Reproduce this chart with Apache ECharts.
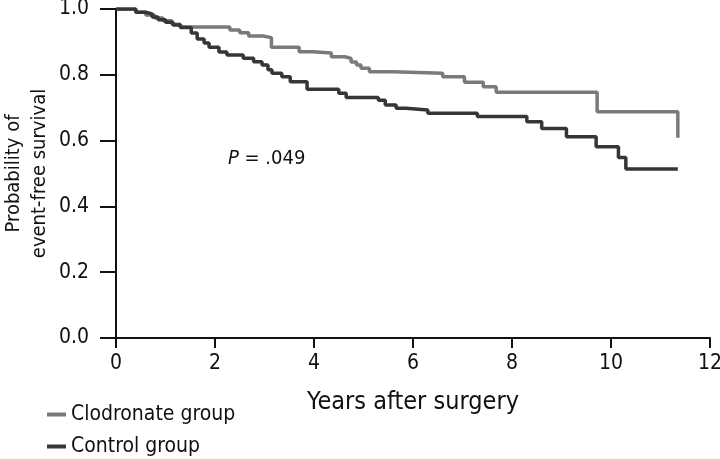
<!DOCTYPE html>
<html><head><meta charset="utf-8">
<script src="https://cdn.jsdelivr.net/npm/echarts@6/dist/echarts.min.js"></script>
<style>html,body{margin:0;padding:0;background:#fff}#c{width:720px;height:459px}</style>
</head><body><div id="c"></div>
<script>
var xTicks = [0, 2, 4, 6, 8, 10, 12];
var yTicks = [0.0, 0.2, 0.4, 0.6, 0.8, 1.0];
var seriesNames = ['Clodronate group', 'Control group'];
var clodronateT = [0, 0.4, 0.6, 0.78, 0.95, 1.13, 1.3, 2.3, 2.5, 2.68, 2.97, 3.14, 3.7, 3.98, 4.35, 4.62, 4.75, 4.86, 4.95, 5.12, 5.6, 6.6, 7.04, 7.42, 7.68, 9.72, 11.35];
var clodronateS = [1.0, 0.99, 0.982, 0.973, 0.964, 0.954, 0.945, 0.936, 0.928, 0.918, 0.913, 0.884, 0.870, 0.866, 0.855, 0.850, 0.839, 0.830, 0.820, 0.809, 0.805, 0.794, 0.777, 0.764, 0.747, 0.688, 0.609];
var controlT = [0, 0.4, 0.6, 0.73, 0.85, 1.0, 1.15, 1.3, 1.52, 1.64, 1.78, 1.88, 2.08, 2.24, 2.57, 2.78, 2.95, 3.07, 3.15, 3.35, 3.52, 3.86, 4.5, 4.65, 5.3, 5.44, 5.66, 5.86, 6.3, 7.3, 8.3, 8.6, 9.1, 9.7, 10.15, 10.3, 11.35];
var controlS = [1.0, 0.99, 0.985, 0.976, 0.967, 0.960, 0.951, 0.944, 0.927, 0.909, 0.897, 0.884, 0.869, 0.860, 0.850, 0.840, 0.830, 0.815, 0.805, 0.794, 0.779, 0.756, 0.744, 0.731, 0.723, 0.708, 0.698, 0.693, 0.683, 0.673, 0.657, 0.637, 0.612, 0.581, 0.549, 0.514, 0.514];
var pText = ['P', ' = .049'];

function pairs(t, s) { return t.map(function (v, i) { return [v, s[i]]; }); }
var FONT = "'Liberation Sans Narrow','DejaVu Sans Condensed','Noto Sans',sans-serif";
var legendCommon = {orient: 'vertical', left: 42, itemWidth: 19, itemHeight: 4, icon: 'rect',
  textStyle: {fontSize: 21, color: '#111', fontFamily: FONT}};
var chart = echarts.init(document.getElementById('c'), null, {renderer: 'canvas'});
chart.setOption({
  animation: false,
  backgroundColor: '#fff',
  textStyle: {fontFamily: FONT, color: '#111'},
  grid: {left: 116, right: 10, top: 9, bottom: 121, containLabel: false, outerBoundsMode: 'none'},
  xAxis: {
    type: 'value', min: xTicks[0], max: xTicks[xTicks.length - 1], interval: 2,
    name: 'Years after surgery', nameLocation: 'middle', nameGap: 52, nameMoveOverlap: false,
    nameTextStyle: {fontSize: 25, color: '#111', fontFamily: FONT},
    axisLine: {lineStyle: {color: '#111', width: 2}},
    axisTick: {show: true, length: 10, lineStyle: {color: '#111', width: 2}},
    axisLabel: {fontSize: 21, color: '#111', margin: 15, fontFamily: FONT},
    splitLine: {show: false}
  },
  yAxis: {
    type: 'value', min: yTicks[0], max: yTicks[yTicks.length - 1], interval: 0.2,
    name: 'Probability of\nevent-free survival', nameLocation: 'middle', nameGap: 63, nameMoveOverlap: false,
    nameTextStyle: {fontSize: 20, color: '#111', lineHeight: 26, fontFamily: FONT},
    axisLine: {show: true, lineStyle: {color: '#111', width: 2}},
    axisTick: {show: true, length: 16, lineStyle: {color: '#111', width: 2}},
    axisLabel: {fontSize: 21, color: '#111', margin: 27, fontFamily: FONT,
      formatter: function (v) { return v.toFixed(1); }},
    splitLine: {show: false}
  },
  legend: [
    Object.assign({top: 399, data: [seriesNames[0]]}, legendCommon),
    Object.assign({top: 431, data: [seriesNames[1]]}, legendCommon)
  ],
  graphic: [{
    type: 'text', left: 228, top: 149,
    style: {
      text: '{i|' + pText[0] + '}' + pText[1],
      rich: {i: {fontStyle: 'italic', fontSize: 20, fontFamily: FONT, fill: '#111'}},
      fontSize: 20, fontFamily: FONT, fill: '#111'
    }
  }],
  series: [
    {name: seriesNames[0], type: 'line', step: 'end', showSymbol: false,
     data: pairs(clodronateT, clodronateS), z: 2,
     itemStyle: {color: '#7a7a7a'}, lineStyle: {color: '#7a7a7a', width: 3.5}},
    {name: seriesNames[1], type: 'line', step: 'end', showSymbol: false,
     data: pairs(controlT, controlS), z: 3,
     itemStyle: {color: '#363636'}, lineStyle: {color: '#363636', width: 3.5}}
  ]
});
</script></body></html>
